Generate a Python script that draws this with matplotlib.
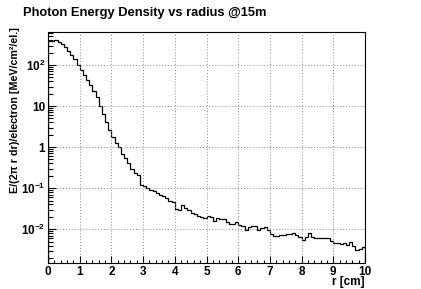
import numpy as np
import matplotlib
matplotlib.use("Agg")
import matplotlib.pyplot as plt
from matplotlib.ticker import FixedLocator, FixedFormatter, LogLocator, MultipleLocator, NullFormatter

plt.rcParams["font.family"] = ["Liberation Sans", "DejaVu Sans"]
plt.rcParams["font.weight"] = "bold"
plt.rcParams["mathtext.fontset"] = "custom"
plt.rcParams["mathtext.rm"] = "Liberation Sans:bold"
plt.rcParams["mathtext.it"] = "Liberation Sans:bold"
plt.rcParams["mathtext.bf"] = "Liberation Sans:bold"

# energy density per 0.1 cm radial bin, 0 -> 10 cm
densite = [
    390, 395, 400, 370, 325, 280, 223, 175, 138, 100,
    75, 57, 43, 33, 23, 17, 10, 6.4, 4.1, 2.6,
    1.8, 1.25, 1.0, 0.68, 0.54, 0.41, 0.29, 0.23, 0.21, 0.12,
    0.11, 0.10, 0.09, 0.085, 0.075, 0.07, 0.063, 0.058, 0.05, 0.045,
    0.031, 0.030, 0.039, 0.032, 0.029, 0.025, 0.023, 0.021, 0.020, 0.019,
    0.021, 0.020, 0.016, 0.0185, 0.0175, 0.018, 0.0154, 0.0132, 0.0132, 0.0148,
    0.0128, 0.0118, 0.0096, 0.0114, 0.0123, 0.0123, 0.0097, 0.0105, 0.011, 0.0095,
    0.0075, 0.0070, 0.0070, 0.0072, 0.0074, 0.0078, 0.0075, 0.0079, 0.0072, 0.0064,
    0.0055, 0.0063, 0.0079, 0.0063, 0.0060, 0.0060, 0.0060, 0.0060, 0.0060, 0.0052,
    0.0046, 0.0046, 0.0043, 0.0046, 0.0041, 0.0050, 0.0038, 0.0031, 0.0033, 0.0036,
]
bords = np.linspace(0, 10, len(densite) + 1)

ticks_y = [1e-2, 1e-1, 1, 10, 1e2]
labels_y = [r"$10^{-2}$", r"$10^{-1}$", "1", "10", r"$10^{2}$"]

fig = plt.figure(figsize=(4.21, 2.89), dpi=100)
ax = fig.add_axes([48 / 421, 1 - 263 / 289, 317 / 421, 231 / 289])

ax.stairs(densite, bords, color="black", linewidth=0.9)

ax.set_yscale("log")
ax.set_xlim(0, 10)
ax.set_ylim(0.0015, 640)

ax.xaxis.set_major_locator(MultipleLocator(1))
ax.xaxis.set_minor_locator(MultipleLocator(0.2))
ax.yaxis.set_major_locator(FixedLocator(ticks_y))
ax.yaxis.set_major_formatter(FixedFormatter(labels_y))
ax.yaxis.set_minor_locator(LogLocator(base=10, subs=np.arange(2, 10)))
ax.yaxis.set_minor_formatter(NullFormatter())

ax.tick_params(which="both", direction="in", top=False, right=False, labelsize=8.5, width=0.8)
ax.tick_params(axis="x", which="major", length=5, pad=2)
ax.tick_params(axis="x", which="minor", length=2.5)
ax.tick_params(axis="y", which="major", length=6, pad=2)
ax.tick_params(axis="y", which="minor", length=3.5)

ax.grid(True, which="major", color="#888888", linestyle=(0, (1, 2)), linewidth=0.7)
for s in ax.spines.values():
    s.set_linewidth(0.8)

ax.set_xlabel("r [cm]", loc="right", fontsize=8.5, fontweight="bold")
ax.xaxis.set_label_coords(1.0, -0.058)
ax.set_ylabel("E/(2π r dr)/electron [MeV/cm²/el.]", loc="top", fontsize=7.7, fontweight="bold")
ax.yaxis.set_label_coords(-0.088, 1.02)

fig.text(22.7 / 421, 1 - 16 / 289, "Photon Energy Density vs radius @15m",
         fontsize=9.3, fontweight="bold", va="baseline", ha="left")

fig.savefig("out.png", dpi=100)
